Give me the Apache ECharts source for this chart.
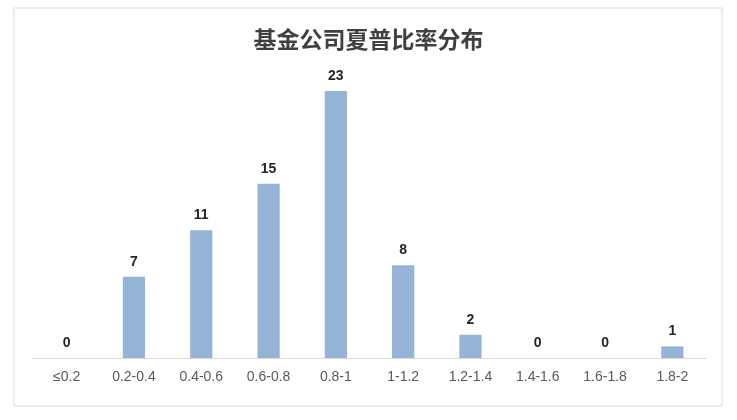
<!DOCTYPE html>
<html lang="zh">
<head>
    <meta charset="UTF-8">
    <title>基金公司夏普比率分布</title>
    <script src="https://cdn.jsdelivr.net/npm/echarts@6/dist/echarts.min.js"></script>
    <style>
        body { margin: 0; background: #fff; }
    </style>
</head>
<body>
  <div id="chart" style="width:737px; height:420px;"></div>
  <script>
    // 区间与基金公司数量
    var categories = ["≤0.2", "0.2-0.4", "0.4-0.6", "0.6-0.8", "0.8-1", "1-1.2", "1.2-1.4", "1.4-1.6", "1.6-1.8", "1.8-2"];
    var counts = [0, 7, 11, 15, 23, 8, 2, 0, 0, 1];

    var myChart = echarts.init(document.getElementById("chart"));
    var option = {
        backgroundColor: "#fff",
        title: {
            text: "基金公司夏普比率分布",
            left: "center",
            top: 23,
            textStyle: {
                fontFamily: "Noto Sans CJK SC",
                fontSize: 23,
                fontWeight: "bold",
                color: "#404040"
            }
        },
        graphic: [{
            type: "rect",
            shape: { x: 14, y: 8, width: 708, height: 398 },
            style: { fill: "none", stroke: "#d9d9d9", lineWidth: 1 },
            silent: true
        }],
        grid: { left: 33, right: 31, top: 91, bottom: 62 },
        xAxis: {
            type: "category",
            data: categories,
            axisLine: { lineStyle: { color: "#d9d9d9" } },
            axisTick: { show: false },
            axisLabel: {
                color: "#595959",
                fontSize: 14,
                fontFamily: "Liberation Sans",
                margin: 12,
                interval: 0
            }
        },
        yAxis: {
            type: "value",
            min: 0,
            max: 23,
            show: false,
            splitLine: { show: false }
        },
        series: [{
            name: "数量",
            type: "bar",
            data: counts,
            barWidth: "33%",
            itemStyle: { color: "#95b3d7" },
            label: {
                show: true,
                position: "top",
                distance: 8,
                color: "#262626",
                fontSize: 14,
                fontWeight: "bold",
                fontFamily: "Liberation Sans"
            }
        }]
    };
    myChart.setOption(option);
  </script>
</body>
</html>
